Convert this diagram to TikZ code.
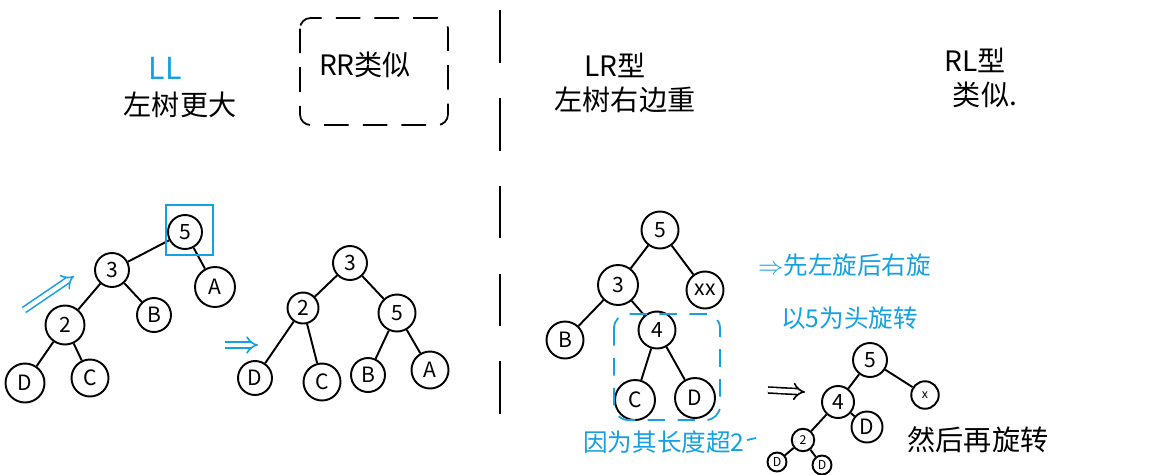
\documentclass[tikz,border=0pt]{standalone}
\usepackage{fontspec}
\newfontfamily\cjk{Noto Sans CJK SC}
\usetikzlibrary{arrows.meta}
\definecolor{pen}{RGB}{20,160,225}

\begin{document}
\begin{tikzpicture}[
                    x=0.02cm, y=-0.02cm,
                    font=\cjk,
                    nd/.style={circle, draw, line width=1.1pt, minimum size=0.68cm, inner sep=0pt, font=\cjk\large},
                    sm/.style={nd, minimum size=0.45cm, font=\cjk\scriptsize},
                    edge/.style={line width=1.1pt},
                    head/.style={font=\cjk\fontsize{16}{18}\selectfont},
                    note/.style={font=\cjk\fontsize{14}{16}\selectfont, text=pen},
                    imp/.style={double, double distance=2.5pt, line width=0.9pt, -{Implies}}
                ]
                \useasboundingbox (0,0) rectangle (1165,474);

                % headings
                \node[note, font=\cjk\LARGE] (ll) at (165,68) {LL};
                \node[head] (lltxt) at (180,105) {左树更大};
                \node[head] (rr) at (365,65) {RR类似};
                \draw[line width=1pt, dashed, dash pattern=on 14pt off 8pt, rounded corners=6pt] (300,18) rectangle (448,125);
                \node[head] (lr) at (615,65) {LR型};
                \node[head] (lrtxt) at (625,100) {左树右边重};
                \node[head] (rl) at (975,60) {RL型};
                \node[head] (rltxt) at (985,95) {类似.};

                % divider
                \draw[line width=1.2pt, dash pattern=on 30pt off 20pt] (500,10) -- (500,432);

                % Tree 1
                \node[nd] (a5) at (185,232) {5};
                \node[nd, minimum size=0.8cm] (aA) at (215,287) {A};
                \node[nd] (a3) at (112,270) {3};
                \node[nd] (aB) at (154,315) {B};
                \node[nd, minimum size=0.78cm] (a2) at (65,325) {2};
                \node[nd, minimum size=0.78cm] (aD) at (25,383) {D};
                \node[nd, minimum size=0.74cm] (aC) at (90,378) {C};
                \draw[edge] (a5) -- (a3);
                \draw[edge] (a5) -- (aA);
                \draw[edge] (a3) -- (a2);
                \draw[edge] (a3) -- (aB);
                \draw[edge] (a2) -- (aD);
                \draw[edge] (a2) -- (aC);
                \draw[pen, line width=1.1pt] (166,205) rectangle (213,255);
                \draw[pen, imp] (24,310) -- (74,276);

                % Tree 2
                \node[nd] (b3) at (350,263) {3};
                \node[nd, minimum size=0.62cm] (b2) at (303,308) {2};
                \node[nd, minimum size=0.74cm] (b5) at (397,313) {5};
                \node[nd] (bD) at (255,378) {D};
                \node[nd, minimum size=0.74cm] (bC) at (322,382) {C};
                \node[nd] (bB) at (368,375) {B};
                \node[nd, minimum size=0.74cm] (bA) at (430,370) {A};
                \draw[edge] (b3) -- (b2);
                \draw[edge] (b3) -- (b5);
                \draw[edge] (b2) -- (bD);
                \draw[edge] (b2) -- (bC);
                \draw[edge] (b5) -- (bB);
                \draw[edge] (b5) -- (bA);
                \draw[pen, imp] (225,345) -- (258,345);

                % Tree 3
                \node[nd, minimum size=0.74cm] (c5) at (660,230) {5};
                \node[nd, minimum size=0.8cm] (c3) at (618,285) {3};
                \node[nd, minimum size=0.74cm] (cX) at (705,290) {xx};
                \node[nd, minimum size=0.74cm] (cB) at (565,340) {B};
                \node[nd, minimum size=0.74cm] (c4) at (657,330) {4};
                \node[nd, minimum size=0.8cm] (cC) at (635,400) {C};
                \node[nd, minimum size=0.8cm] (cD) at (695,398) {D};
                \draw[edge] (c5) -- (c3);
                \draw[edge] (c5) -- (cX);
                \draw[edge] (c3) -- (cB);
                \draw[edge] (c3) -- (c4);
                \draw[edge] (c4) -- (cC);
                \draw[edge] (c4) -- (cD);
                \draw[pen, line width=1pt, dashed, dash pattern=on 10pt off 7pt, rounded corners=8pt] (614,314) rectangle (720,420);
                \node[note] (why) at (664,442) {因为其长度超2};
                \draw[pen, line width=1pt] (747,440) -- (756,438);

                % notes
                \node[note, anchor=west] (n1) at (752,265) {$\Rightarrow$先左旋后右旋};
                \node[note, anchor=west] (n2) at (775,318) {以5为头旋转};

                % Tree 4
                \node[nd] (d5) at (870,360) {5};
                \node[sm, minimum size=0.55cm] (dX) at (925,395) {x};
                \node[nd, minimum size=0.64cm] (d4) at (838,402) {4};
                \node[nd, minimum size=0.62cm] (dD) at (867,427) {D};
                \node[sm] (d2) at (803,440) {2};
                \node[sm, minimum size=0.38cm] (dD1) at (777,462) {D};
                \node[sm, minimum size=0.38cm] (dD2) at (822,465) {D};
                \draw[edge] (d5) -- (d4);
                \draw[edge] (d5) -- (dX);
                \draw[edge] (d4) -- (d2);
                \draw[edge] (d4) -- (dD);
                \draw[edge] (d2) -- (dD1);
                \draw[edge] (d2) -- (dD2);
                \draw[imp] (768,390) -- (805,392);
                \node[head] (then) at (978,440) {然后再旋转};

            \end{tikzpicture}
\end{document}
